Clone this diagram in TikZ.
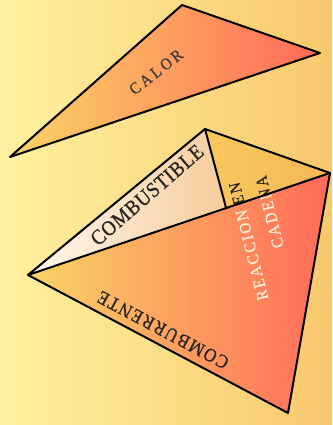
\documentclass[tikz,border=0pt]{standalone}
\usepackage{fontspec}
\setmainfont{Liberation Serif}
\usetikzlibrary{calc}
\definecolor{bgL}{HTML}{FFF1A0}
\definecolor{bgR}{HTML}{F9C86C}
\definecolor{hotL}{HTML}{FAD466}
\definecolor{hotR}{HTML}{FF6A58}
\definecolor{fuelL}{HTML}{FFF8EC}
\definecolor{fuelR}{HTML}{F7CC9C}
\definecolor{chainL}{HTML}{F8C85C}
\definecolor{chainR}{HTML}{F6B656}
\definecolor{txtdark}{HTML}{2A2420}
\definecolor{txtlight}{HTML}{FBF2DC}
\begin{document}
\begin{tikzpicture}[x=1pt,y=-1pt,
  edge/.style={line width=2pt, line join=round, line cap=round, draw=black},
  lblA/.style={font=\fontsize{15}{17}\selectfont\addfontfeature{LetterSpace=20,FakeBold=0.5}, inner sep=0pt, text=txtdark!90},
  lblB/.style={font=\fontsize{19}{21}\selectfont\addfontfeature{LetterSpace=4,FakeBold=0.8}, inner sep=0pt, text=txtdark},
  lblD/.style={font=\fontsize{17}{19}\selectfont\addfontfeature{LetterSpace=10,FakeBold=0.8}, inner sep=0pt, text=txtdark},
  lblC/.style={font=\fontsize{15}{25}\selectfont\addfontfeature{LetterSpace=15,FakeBold=0.5}, inner sep=0pt, align=right}]
\useasboundingbox (0,0) rectangle (332,425);
\shade[left color=bgL, right color=bgR] (0,0) rectangle (332,425);
% heat triangle
\coordinate (hT) at (182,5);
\coordinate (hR) at (320,53);
\coordinate (hL) at (10,157);
\shade[left color=hotL, right color=hotR] (hT) -- (hR) -- (hL) -- cycle;
\draw[edge] (hT) -- (hR) -- (hL) -- cycle;
\node[lblA, rotate=38, yscale=1.1] (calor) at (156,72) {CALOR};
% tetrahedron
\coordinate (T) at (205,129);
\coordinate (R) at (330,173);
\coordinate (L) at (28,275);
\coordinate (B) at (288,413);
\coordinate (X) at ($(L)!0.656!(R)$);
\shade[left color=hotL, right color=hotR] (L) -- (R) -- (B) -- cycle;
\shade[left color=chainL, right color=chainR] (T) -- (R) -- (X) -- cycle;
\shade[left color=fuelL, right color=fuelR] (L) -- (T) -- (X) -- cycle;
\begin{scope}
  \clip (L) -- (R) -- (B) -- cycle;
  \node[lblC, rotate=104, yscale=1.1, text=txtlight] (reacA) at (262,238) {REACCION EN\\CADENA};
\end{scope}
\begin{scope}
  \clip (T) -- (R) -- (X) -- cycle;
  \node[lblC, rotate=104, yscale=1.1, text=txtdark] (reacB) at (262,238) {REACCION EN\\CADENA};
\end{scope}
\draw[edge] (L) -- (T) -- (R) -- (B) -- cycle;
\draw[edge] (L) -- (R);
\draw[edge] (T) -- (X);
\node[lblB, rotate=41, yscale=1.12] (comb) at (147,195) {COMBUSTIBLE};
\node[lblD, rotate=152, yscale=1.12] (comburr) at (163,330) {COMBURRENTE};
\end{tikzpicture}
\end{document}
